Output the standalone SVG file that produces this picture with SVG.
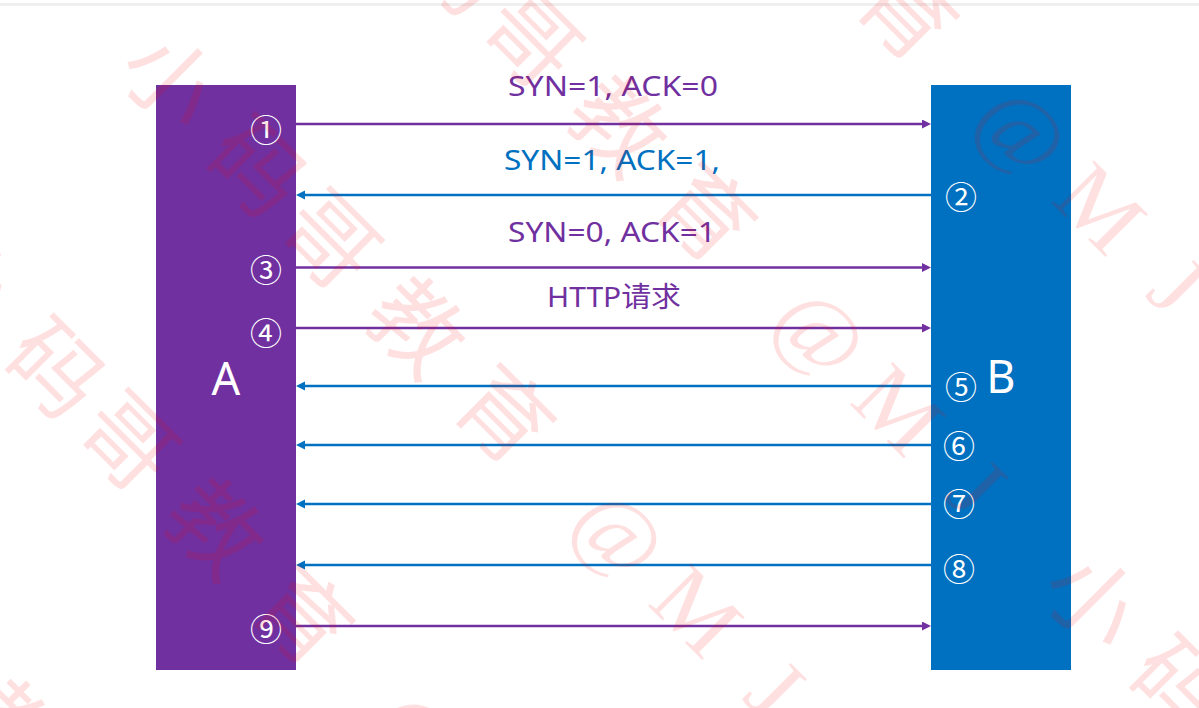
<svg xmlns="http://www.w3.org/2000/svg" width="1199" height="708" viewBox="0 0 1199 708">
<style>
.lbl{font-family:"Noto Sans","Noto Sans CJK SC",sans-serif;font-size:28px;text-anchor:middle}
.pur{fill:#7030A0}
.blu{fill:#0070C0}
.num{font-family:"Noto Sans CJK SC",sans-serif;font-size:32px;fill:#fff;text-anchor:middle;dominant-baseline:central}
.big{font-family:"Noto Sans","Open Sans",sans-serif;font-size:45px;fill:#fff;text-anchor:middle}
.ap{stroke:#7030A0;stroke-width:2.5;fill:none;marker-end:url(#mp)}
.ab{stroke:#0070C0;stroke-width:2.5;fill:none;marker-end:url(#mb)}
.wm{font-family:"Liberation Serif","Noto Sans CJK SC",serif;font-size:92px;fill:#ff0000;fill-opacity:0.12;text-anchor:middle}
</style>
<defs>
<marker id="mp" markerUnits="userSpaceOnUse" markerWidth="10" markerHeight="10" refX="1" refY="4.5" orient="auto"><path d="M0,0 L9,4.5 L0,9 z" fill="#7030A0"/></marker>
<marker id="mb" markerUnits="userSpaceOnUse" markerWidth="10" markerHeight="10" refX="1" refY="4.5" orient="auto"><path d="M0,0 L9,4.5 L0,9 z" fill="#0070C0"/></marker>
</defs>
<rect width="1199" height="708" fill="#fff"/>
<rect x="0" y="3" width="1199" height="3" fill="#efefef"/>
<g id="nodeA">
<rect x="156" y="85" width="140" height="585" fill="#7030A0"/>
<text class="big" x="226" y="395">A</text>
<text class="num" x="266" y="128">①</text>
<text class="num" x="266" y="268">③</text>
<text class="num" x="266" y="331">④</text>
<text class="num" x="266" y="627">⑨</text>
</g>
<g id="nodeB">
<rect x="931" y="85" width="140" height="585" fill="#0070C0"/>
<text class="big" x="1001" y="393">B</text>
<text class="num" x="961" y="195">②</text>
<text class="num" x="961" y="385">⑤</text>
<text class="num" x="959" y="444">⑥</text>
<text class="num" x="959" y="502">⑦</text>
<text class="num" x="959" y="567">⑧</text>
</g>
<g id="connectors">
<line class="ap" x1="296" y1="124" x2="923" y2="124"/>
<line class="ab" x1="931" y1="195" x2="304" y2="195"/>
<line class="ap" x1="296" y1="267.5" x2="923" y2="267.5"/>
<line class="ap" x1="296" y1="328" x2="923" y2="328"/>
<line class="ab" x1="931" y1="386" x2="304" y2="386"/>
<line class="ab" x1="931" y1="445" x2="304" y2="445"/>
<line class="ab" x1="931" y1="504" x2="304" y2="504"/>
<line class="ab" x1="931" y1="565" x2="304" y2="565"/>
<line class="ap" x1="296" y1="626" x2="923" y2="626"/>
</g>
<g id="labels">
<text class="lbl pur" x="613" y="96" textLength="210" lengthAdjust="spacingAndGlyphs">SYN=1, ACK=0</text>
<text class="lbl blu" x="612" y="170" textLength="216" lengthAdjust="spacingAndGlyphs">SYN=1, ACK=1,</text>
<text class="lbl pur" x="612" y="242" textLength="208" lengthAdjust="spacingAndGlyphs">SYN=0, ACK=1</text>
<text class="lbl pur" x="614" y="307" textLength="134" lengthAdjust="spacingAndGlyphs">HTTP请求</text>
</g>
<g id="watermark" class="wm" transform="rotate(45)">
<text x="-843 -720 -617 -494 -370 -205 -95 15 177 300 403 526 650 815 925 1035 1197 1320 1423 1546 1670 1835 1945 2055" y="-600">小码哥教育@MJ小码哥教育@MJ小码哥教育@MJ</text>
<text x="-843 -720 -617 -494 -370 -205 -95 15 177 300 403 526 650 815 925 1035 1197 1320 1423 1546 1670 1835 1945 2055" y="-315">小码哥教育@MJ小码哥教育@MJ小码哥教育@MJ</text>
<text x="-843 -720 -617 -494 -370 -205 -95 15 177 300 403 526 650 815 925 1035 1197 1320 1423 1546 1670 1835 1945 2055" y="-30">小码哥教育@MJ小码哥教育@MJ小码哥教育@MJ</text>
<text x="-843 -720 -617 -494 -370 -205 -95 15 177 300 403 526 650 815 925 1035 1197 1320 1423 1546 1670 1835 1945 2055" y="255">小码哥教育@MJ小码哥教育@MJ小码哥教育@MJ</text>
<text x="-843 -720 -617 -494 -370 -205 -95 15 177 300 403 526 650 815 925 1035 1197 1320 1423 1546 1670 1835 1945 2055" y="540">小码哥教育@MJ小码哥教育@MJ小码哥教育@MJ</text>
</g>
</svg>
